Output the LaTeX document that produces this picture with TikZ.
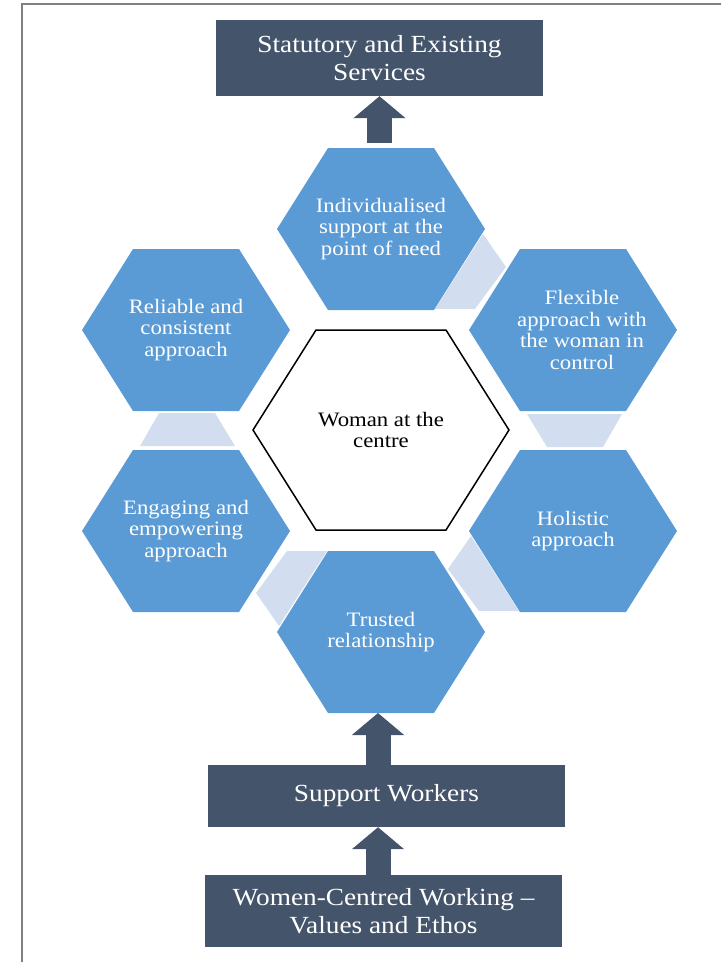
\documentclass[tikz,border=0pt]{standalone}
\usepackage{fontspec}
\setmainfont[FakeStretch=1.11]{Liberation Serif}
\usetikzlibrary{arrows.meta,calc}
\definecolor{slate}{HTML}{44546A}
\definecolor{hexblue}{HTML}{5B9BD5}
\definecolor{linkblue}{HTML}{D2DEEF}
\newcommand{\hexpath}{(-104,0) -- (-53,-81) -- (53,-81) -- (104,0) -- (53,81) -- (-53,81) -- cycle}
\begin{document}
\begin{tikzpicture}[x=1pt,y=-1pt,
    boxnode/.style={fill=slate,text=white,align=center,inner sep=0pt,font=\fontsize{24.6}{27.5}\selectfont},
    hexnode/.style={text=white,align=center,inner sep=0pt,font=\fontsize{20.5}{21.5}\selectfont},
    hexfill/.style={fill=hexblue},
    linkfill/.style={fill=linkblue},
    bigarrow/.style={slate,line width=25pt,-{Triangle[width=51pt,length=22pt]}}]
    \useasboundingbox (0,0) rectangle (721,962);
    \draw[gray,line width=2pt] (22,962) -- (22,4) -- (721,4);

    \coordinate (top) at (381,229);
    \coordinate (flex) at (573,330);
    \coordinate (holi) at (573,531);
    \coordinate (trust) at (381,632);
    \coordinate (engage) at (186,531);
    \coordinate (reli) at (186,330);
    \coordinate (mid) at (381,430);

    \foreach \c in {top,flex,holi,trust,engage,reli}
        \fill[hexfill,shift={(\c)}] \hexpath;
    \draw[line width=1.5pt,fill=white,shift={(mid)}] (-128,0) -- (-65,-100) -- (65,-100) -- (128,0) -- (65,100) -- (-65,100) -- cycle;

    % links between the hexagons
    \fill[linkfill] ($(top)+(102,5)$) -- ($(top)+(125,38)$) -- ($(top)+(94,80)$) -- ($(top)+(54,80)$) -- cycle;
    \fill[linkfill] ($(flex)+(-46,84)$) -- ($(flex)+(49,84)$) -- ($(flex)+(30,117)$) -- ($(flex)+(-26,117)$) -- cycle;
    \fill[linkfill] ($(holi)+(-102,5)$) -- ($(holi)+(-125,38)$) -- ($(holi)+(-94,80)$) -- ($(holi)+(-54,80)$) -- cycle;
    \fill[linkfill] ($(trust)+(-102,-6)$) -- ($(trust)+(-125,-39)$) -- ($(trust)+(-94,-81)$) -- ($(trust)+(-54,-81)$) -- cycle;
    \fill[linkfill] ($(engage)+(-46,-85)$) -- ($(engage)+(49,-85)$) -- ($(engage)+(29,-118)$) -- ($(engage)+(-27,-118)$) -- cycle;

    \node[hexnode] (tTop) at (top) {Individualised\\support at the\\point of need};
    \node[hexnode] (tFlex) at ($(flex)+(9,0)$) {Flexible\\approach with\\the woman in\\control};
    \node[hexnode] (tHoli) at (holi) {Holistic\\approach};
    \node[hexnode] (tTrust) at (trust) {Trusted\\relationship};
    \node[hexnode] (tEngage) at (engage) {Engaging and\\empowering\\approach};
    \node[hexnode] (tReli) at (reli) {Reliable and\\consistent\\approach};
    \node[hexnode,text=black] (tMid) at (mid) {Woman at the\\centre};

    \node[boxnode,minimum width=327pt,minimum height=76pt] (stat) at (379.5,58) {Statutory and Existing\\Services};
    \node[boxnode,minimum width=357pt,minimum height=62pt] (sw) at (386.5,796) {\raisebox{-3pt}{Support Workers}};
    \node[boxnode,minimum width=357pt,minimum height=72pt] (wcw) at (383.5,911) {\raisebox{-3pt}{Women-Centred Working --}\\\raisebox{-3pt}{Values and Ethos}};

    \coordinate (trustfoot) at ($(trust)+(-3,81)$);
    \draw[bigarrow] ($(stat.south)+(0,47)$) -- (stat.south);
    \draw[bigarrow] (sw.north -| trustfoot) -- (trustfoot);
    \draw[bigarrow] (wcw.north -| trustfoot) -- (sw.south -| trustfoot);
\end{tikzpicture}
\end{document}
